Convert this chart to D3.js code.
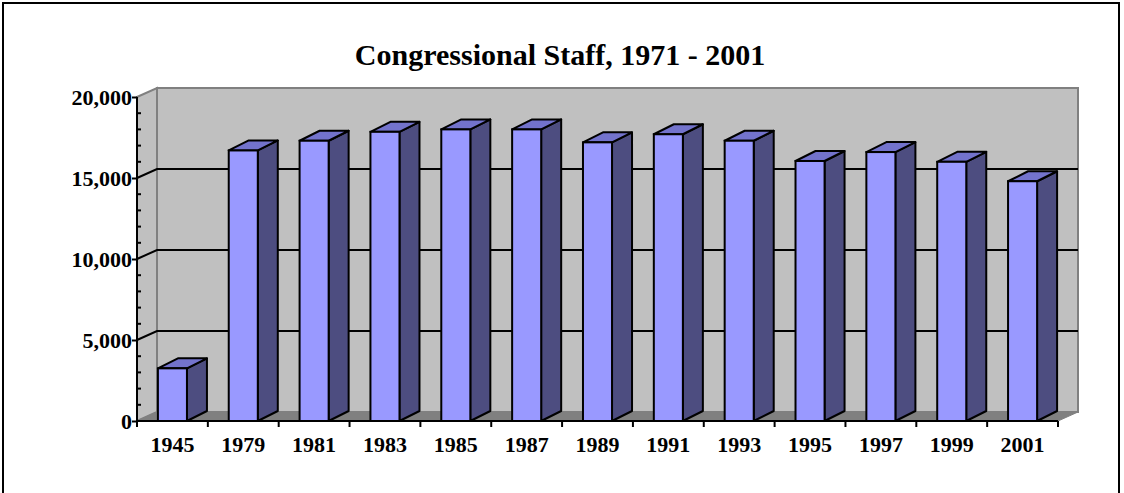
<!DOCTYPE html>
<html>
<head>
<meta charset="utf-8">
<script src="https://cdn.jsdelivr.net/npm/d3@7"></script>
<style>
  body { margin: 0; background: #fff; }
  text { font-family: "Times New Roman", "Liberation Serif", serif; font-weight: bold; fill: #000; }
</style>
</head>
<body>
<div id="chart"></div>
<script>
// data
var years = ["1945","1979","1981","1983","1985","1987","1989","1991","1993","1995","1997","1999","2001"];
var staff = [3250, 16700, 17300, 17850, 18000, 18000, 17200, 17700, 17300, 16050, 16600, 16000, 14800];
var majorTicks = [0, 5000, 10000, 15000, 20000];
var chartTitle = "Congressional Staff, 1971 - 2001";

var W = 1124, H = 493;
var DX = 20, DY = -9;      // wall depth
var BDX = 20, BDY = -10;   // bar depth

var svg = d3.select("#chart").append("svg")
  .attr("width", W)
  .attr("height", H);

// outer frame
svg.append("rect")
  .attr("x", 3).attr("y", 3)
  .attr("width", 1116).attr("height", 500)
  .attr("fill", "#fff")
  .attr("stroke", "#000")
  .attr("stroke-width", 2);

var x = d3.scaleBand()
  .domain(years)
  .range([137, 1058])
  .paddingInner(0.59)
  .paddingOuter(0.295);

var xCat = d3.scaleBand()
  .domain(years)
  .range([137, 1058])
  .padding(0);

var y = d3.scaleLinear()
  .domain([0, 20000])
  .range([421, 97]);

var x0 = xCat.range()[0], x1 = xCat.range()[1];
var y0 = y(0), yTop = y(20000);

function pts(a) { return a.map(function(p){ return p.join(","); }).join(" "); }

// side wall
svg.append("polygon")
  .attr("points", pts([[x0, y0], [x0, yTop], [x0+DX, yTop+DY], [x0+DX, y0+DY]]))
  .attr("fill", "#c0c0c0")
  .attr("stroke", "#808080")
  .attr("stroke-width", 2);

// back wall
svg.append("polygon")
  .attr("points", pts([[x0+DX, y0+DY], [x0+DX, yTop+DY], [x1+DX, yTop+DY], [x1+DX, y0+DY]]))
  .attr("fill", "#c0c0c0")
  .attr("stroke", "#808080")
  .attr("stroke-width", 2);

// gridlines on the walls
var grid = svg.append("g");
majorTicks.filter(function(d){ return d > 0 && d < 20000; }).forEach(function(d) {
  grid.append("polyline")
    .attr("points", pts([[x0, y(d)], [x0+DX, y(d)+DY], [x1+DX, y(d)+DY]]))
    .attr("fill", "none")
    .attr("stroke", "#000")
    .attr("stroke-width", 2);
});

// floor
svg.append("polygon")
  .attr("points", pts([[x0, y0], [x0+DX, y0+DY], [x1+DX, y0+DY], [x1, y0]]))
  .attr("fill", "#808080")
  .attr("stroke", "#808080")
  .attr("stroke-width", 1);

// bars
var bars = svg.append("g")
  .selectAll("g")
  .data(years.map(function(d, i){ return {year: d, value: staff[i]}; }))
  .enter()
  .append("g");

bars.append("polygon")   // side
  .attr("points", function(d) {
    var l = x(d.year) + x.bandwidth(), t = y(d.value);
    return pts([[l, y0], [l, t], [l+BDX, t+BDY], [l+BDX, y0+BDY]]);
  })
  .attr("fill", "#4d4d80")
  .attr("stroke", "#000")
  .attr("stroke-width", 2)
  .attr("stroke-linejoin", "round");

bars.append("polygon")   // top
  .attr("points", function(d) {
    var l = x(d.year), r = l + x.bandwidth(), t = y(d.value);
    return pts([[l, t], [r, t], [r+BDX, t+BDY], [l+BDX, t+BDY]]);
  })
  .attr("fill", "#7373cc")
  .attr("stroke", "#000")
  .attr("stroke-width", 2)
  .attr("stroke-linejoin", "round");

bars.append("rect")      // front
  .attr("x", function(d){ return x(d.year); })
  .attr("y", function(d){ return y(d.value); })
  .attr("width", x.bandwidth())
  .attr("height", function(d){ return y0 - y(d.value); })
  .attr("fill", "#9999ff")
  .attr("stroke", "#000")
  .attr("stroke-width", 2);

// y axis
var yAxis = svg.append("g")
  .attr("transform", "translate(" + x0 + ",0)")
  .call(d3.axisLeft(y).tickValues(majorTicks).tickFormat(d3.format(",")).tickSize(5).tickPadding(0));
yAxis.select(".domain").attr("stroke-width", 2).attr("d", "M0," + yTop + "V" + (y0 + 6));
yAxis.selectAll(".tick line").attr("stroke-width", 2);
yAxis.selectAll(".tick text")
  .style("font-size", "22px")
  .style("font-family", "'Times New Roman', 'Liberation Serif', serif")
  .style("font-weight", "bold")
  .attr("dy", "0.35em");

// minor ticks on the right of the axis
var minor = d3.range(1000, 20000, 1000).filter(function(d){ return d % 5000 != 0; });
svg.append("g")
  .selectAll("line")
  .data(minor)
  .enter()
  .append("line")
  .attr("x1", x0).attr("x2", x0 + 4)
  .attr("y1", function(d){ return y(d); })
  .attr("y2", function(d){ return y(d); })
  .attr("stroke", "#000")
  .attr("stroke-width", 2);

// x axis
svg.append("line")
  .attr("x1", x0).attr("x2", x1)
  .attr("y1", y0).attr("y2", y0)
  .attr("stroke", "#000")
  .attr("stroke-width", 2);

svg.append("g")
  .selectAll("line")
  .data(years)
  .enter()
  .append("line")
  .attr("x1", function(d){ return xCat(d) + xCat.bandwidth(); })
  .attr("x2", function(d){ return xCat(d) + xCat.bandwidth(); })
  .attr("y1", y0).attr("y2", y0 + 6)
  .attr("stroke", "#000")
  .attr("stroke-width", 2);

svg.append("g")
  .selectAll("text")
  .data(years)
  .enter()
  .append("text")
  .attr("x", function(d){ return xCat(d) + xCat.bandwidth() / 2; })
  .attr("y", 452)
  .attr("text-anchor", "middle")
  .style("font-size", "22px")
  .text(function(d){ return d; });

// title
svg.append("text")
  .attr("x", 560)
  .attr("y", 65)
  .attr("text-anchor", "middle")
  .style("font-size", "30px")
  .text(chartTitle);
</script>
</body>
</html>
